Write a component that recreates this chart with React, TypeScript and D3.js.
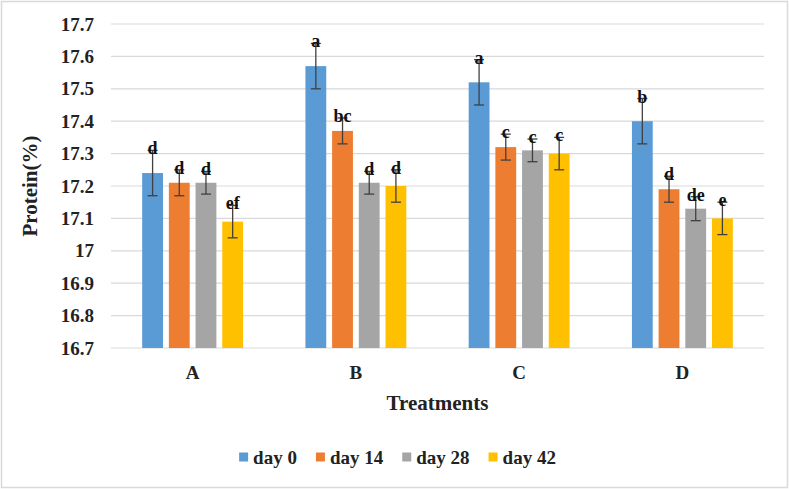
import React from "react";
import * as d3 from "d3";

const treatments = ["A", "B", "C", "D"];
const seriesNames = ["day 0", "day 14", "day 28", "day 42"];
const day0 = [17.24, 17.57, 17.52, 17.4];
const day14 = [17.21, 17.37, 17.32, 17.19];
const day28 = [17.21, 17.21, 17.31, 17.13];
const day42 = [17.09, 17.2, 17.3, 17.1];
const err0 = [0.07, 0.07, 0.07, 0.07];
const err14 = [0.04, 0.04, 0.04, 0.04];
const err28 = [0.035, 0.035, 0.035, 0.037];
const err42 = [0.05, 0.05, 0.05, 0.05];
const letters0 = ["d", "a", "a", "b"];
const letters14 = ["d", "bc", "c", "d"];
const letters28 = ["d", "d", "c", "de"];
const letters42 = ["ef", "d", "c", "e"];
const yTicks = [16.7, 16.8, 16.9, 17, 17.1, 17.2, 17.3, 17.4, 17.5, 17.6, 17.7];

const colors = ["#5B9BD5", "#ED7D31", "#A5A5A5", "#FFC000"];
const FONT = "Liberation Serif";

export default function App() {
  const width = 789;
  const height = 489;
  const margin = { top: 24, right: 25, bottom: 141, left: 111 };
  const innerW = width - margin.left - margin.right;
  const innerH = height - margin.top - margin.bottom;

  const values = [day0, day14, day28, day42];
  const errs = [err0, err14, err28, err42];
  const letters = [letters0, letters14, letters28, letters42];

  const x0 = d3.scaleBand().domain(treatments).range([0, innerW]).paddingInner(0.31).paddingOuter(0.155);
  const x1 = d3.scaleBand().domain(seriesNames).range([0, x0.bandwidth()]).padding(0.22);
  const y = d3.scaleLinear().domain([16.7, 17.7]).range([innerH, 0]);

  // legend layout from measured text widths
  const ctx = React.useMemo(() => {
    const c = document.createElement("canvas").getContext("2d");
    if (c) c.font = `bold 19px "${FONT}"`;
    return c;
  }, []);
  const sq = 9;
  const items = seriesNames.map((n) => ({ n, w: sq + 5 + (ctx ? ctx.measureText(n).width : n.length * 10) }));
  const gap = 19;
  const totalW = d3.sum(items, (d) => d.w) + gap * (items.length - 1);
  let lx = width / 2 + 3 - totalW / 2;
  const legendPos = items.map((it) => {
    const p = lx;
    lx += it.w + gap;
    return p;
  });

  const txt = { fontFamily: `"${FONT}", serif`, fontWeight: 700 } as React.CSSProperties;

  return (
    <svg width={width} height={height} style={{ position: "absolute", left: 0, top: 0, background: "#fff" }}>
      <rect x={1.5} y={1.5} width={width - 3} height={height - 3} fill="#fff" stroke="#d9d9d9" strokeWidth={1.5} />
      <g transform={`translate(${margin.left},${margin.top})`}>
        {yTicks.map((t) => (
          <g key={t}>
            <line x1={0} x2={innerW} y1={y(t)} y2={y(t)} stroke="#d9d9d9" strokeWidth={1.2} />
            <text x={-17} y={y(t)} dy="0.35em" textAnchor="end" style={txt} fontSize={19} fill="#222">
              {d3.format("")(t)}
            </text>
          </g>
        ))}
        {treatments.map((c, ci) => (
          <g key={c} transform={`translate(${x0(c)},0)`}>
            {seriesNames.map((s, si) => {
              const v = values[si][ci];
              const e = errs[si][ci];
              const bx = x1(s) as number;
              const cx = bx + x1.bandwidth() / 2;
              return (
                <g key={s}>
                  <rect x={bx} y={y(v)} width={x1.bandwidth()} height={innerH - y(v)} fill={colors[si]} />
                  <line x1={cx} x2={cx} y1={y(v + e)} y2={y(v - e)} stroke="#404040" strokeWidth={1.3} />
                  <line x1={cx - 5} x2={cx + 5} y1={y(v + e)} y2={y(v + e)} stroke="#404040" strokeWidth={1.3} />
                  <line x1={cx - 5} x2={cx + 5} y1={y(v - e)} y2={y(v - e)} stroke="#404040" strokeWidth={1.3} />
                  <text x={cx} y={y(v + e) + 4} textAnchor="middle" style={txt} fontSize={18} fill="#111">
                    {letters[si][ci]}
                  </text>
                </g>
              );
            })}
            <text x={x0.bandwidth() / 2} y={innerH + 24} dy="0.35em" textAnchor="middle" style={txt} fontSize={19} fill="#222">
              {c}
            </text>
          </g>
        ))}
        <text x={innerW / 2} y={innerH + 55} dy="0.35em" textAnchor="middle" style={txt} fontSize={21} fill="#222">
          Treatments
        </text>
      </g>
      <text transform={`translate(30,${margin.top + innerH / 2}) rotate(-90)`} dy="0.35em" textAnchor="middle" style={txt} fontSize={21} fill="#222">
        Protein(%)
      </text>
      {seriesNames.map((s, i) => (
        <g key={s} transform={`translate(${legendPos[i]},457)`}>
          <rect x={0} y={-sq / 2} width={sq} height={sq} fill={colors[i]} />
          <text x={sq + 5} y={0} dy="0.35em" style={txt} fontSize={19} fill="#222">
            {s}
          </text>
        </g>
      ))}
    </svg>
  );
}
